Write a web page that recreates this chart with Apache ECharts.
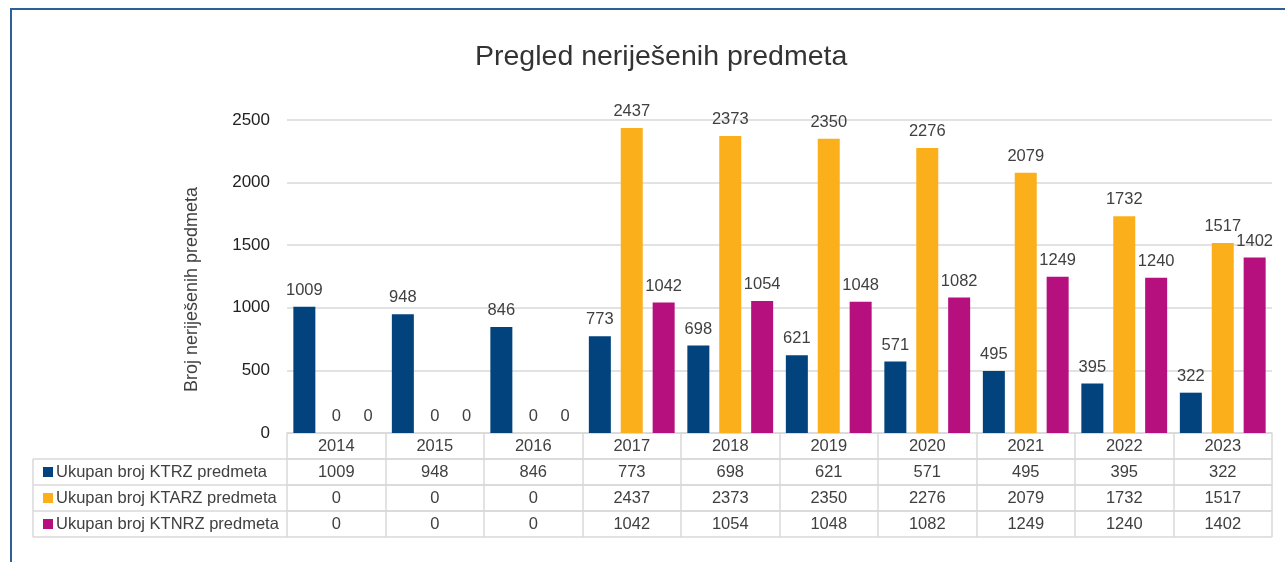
<!DOCTYPE html>
<html>
<head>
<meta charset="utf-8">
<script src="https://cdn.jsdelivr.net/npm/echarts@6/dist/echarts.min.js"></script>
<style>
html, body { margin: 0; padding: 0; background: #fff; }
#chart { width: 1285px; height: 562px; }
</style>
</head>
<body>
<div id="chart"></div>
<script>
// podaci
const years = ["2014", "2015", "2016", "2017", "2018", "2019", "2020", "2021", "2022", "2023"];
const ktrz = [1009, 948, 846, 773, 698, 621, 571, 495, 395, 322];
const ktarz = [0, 0, 0, 2437, 2373, 2350, 2276, 2079, 1732, 1517];
const ktnrz = [0, 0, 0, 1042, 1054, 1048, 1082, 1249, 1240, 1402];
const seriesNames = ["Ukupan broj KTRZ predmeta", "Ukupan broj KTARZ predmeta", "Ukupan broj KTNRZ predmeta"];
const colors = ["#02437d", "#fbb01b", "#b5107e"];

const FONT = "Liberation Sans, Arial, sans-serif";
const lineColor = "#d9d9d9";
const gridLeft = 287, gridRight = 1272, axisY = 433, rowH = 26, tableLeft = 33;

const chart = echarts.init(document.getElementById("chart"));
const rows = [ktrz, ktarz, ktnrz];

// osi za tablicu ispod grafa
const xAxes = [{
	type: "category",
	data: years,
	axisLine: { lineStyle: { color: lineColor, width: 1.5 } },
	axisTick: { show: true, length: rowH, lineStyle: { color: lineColor, width: 1.5 } },
	axisLabel: { color: "#404040", fontSize: 16.5, fontFamily: FONT, margin: 5, interval: 0 },
}];
rows.forEach(function(row, i) {
	xAxes.push({
		type: "category",
		data: years,
		position: "bottom",
		offset: rowH * (i + 1),
		axisLine: { lineStyle: { color: lineColor, width: 1.5 } },
		axisTick: { show: true, length: rowH, lineStyle: { color: lineColor, width: 1.5 } },
		axisLabel: {
			color: "#404040", fontSize: 16.5, fontFamily: FONT, margin: 5, interval: 0,
			formatter: function(v, idx) { return String(row[idx]); },
		},
	});
});

// okvir i legenda u prvoj koloni tablice
const graphic = [
	{ type: "rect", shape: { x: 11, y: 8, width: 1274, height: 2 }, style: { fill: "#2d6195" } },
	{ type: "rect", shape: { x: 10, y: 8, width: 2, height: 554 }, style: { fill: "#2d6195" } },
];
for (let r = 1; r <= 4; r++) {
	graphic.push({
		type: "line",
		shape: { x1: tableLeft, y1: axisY + rowH * r, x2: gridRight, y2: axisY + rowH * r },
		style: { stroke: lineColor, lineWidth: 1.5 },
	});
}
graphic.push({
	type: "line",
	shape: { x1: tableLeft, y1: axisY + rowH, x2: tableLeft, y2: axisY + rowH * 4 },
	style: { stroke: lineColor, lineWidth: 1.5 },
});
seriesNames.forEach(function(name, i) {
	const cy = axisY + rowH * (i + 1) + rowH / 2;
	graphic.push({ type: "rect", shape: { x: 43, y: cy - 5, width: 10, height: 10 }, style: { fill: colors[i] } });
	graphic.push({
		type: "text", x: 56, y: cy - 8,
		style: { text: name, fill: "#404040", font: "16.5px " + FONT },
	});
});

const option = {
	backgroundColor: "#fff",
	animation: false,
	title: {
		text: "Pregled neriješenih predmeta",
		left: 470,
		top: 38,
		textStyle: { color: "#333", fontSize: 28.5, fontWeight: "normal", fontFamily: FONT },
	},
	grid: { left: gridLeft, right: 1285 - gridRight, top: 120, bottom: 562 - axisY, containLabel: false },
	xAxis: xAxes,
	yAxis: {
		type: "value",
		min: 0,
		max: 2500,
		interval: 500,
		name: "Broj neriješenih predmeta",
		nameLocation: "middle",
		nameGap: 86,
		nameTextStyle: { color: "#404040", fontSize: 18, fontFamily: FONT, padding: [0, 0, 0, -26] },
		axisLine: { show: false },
		axisTick: { show: false },
		axisLabel: { color: "#222", fontSize: 17, fontFamily: FONT, margin: 17, formatter: function(v) { return String(v); } },
		splitLine: { lineStyle: { color: lineColor, width: 1.5 } },
	},
	series: rows.map(function(row, i) {
		return {
			name: seriesNames[i],
			type: "bar",
			data: row,
			barWidth: 22,
			barGap: "45%",
			itemStyle: { color: colors[i] },
			label: { show: true, position: "top", distance: 8, color: "#404040", fontSize: 16.5, fontFamily: FONT },
		};
	}),
	graphic: graphic,
};
chart.setOption(option);
</script>
</body>
</html>
